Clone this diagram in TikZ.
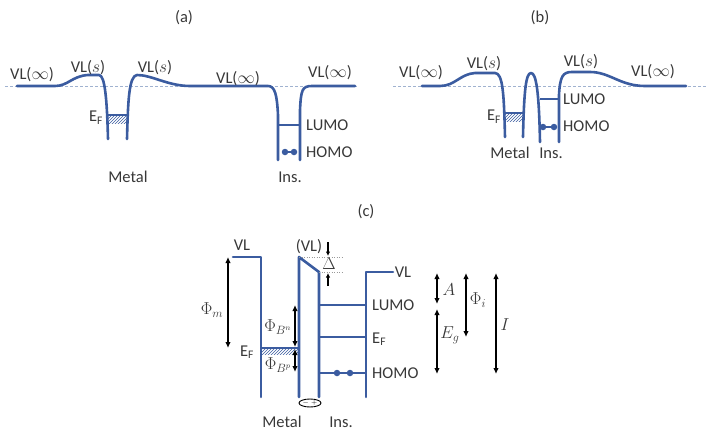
\documentclass[tikz,border=0pt]{standalone}
\usepackage{fontspec}
\setmainfont{Carlito}
\usetikzlibrary{arrows.meta, positioning, patterns, shapes.geometric}
\definecolor{bandblue}{RGB}{59,92,160}
\definecolor{vacblue}{RGB}{160,178,208}
\tikzstyle{lbl} = [inner sep=1pt, font=\fontsize{16.5}{19}\selectfont, text=black!78]
\tikzstyle{bandline} = [draw=bandblue, line width=2.6pt, line join=round, line cap=round]
\tikzstyle{level} = [draw=bandblue, line width=1.2pt]
\tikzstyle{levelc} = [draw=bandblue, line width=1.9pt]
\tikzstyle{vacline} = [draw=vacblue, line width=0.6pt, dash pattern=on 3pt off 2pt]
\tikzstyle{hatch} = [pattern=north east lines, pattern color=bandblue]
\tikzstyle{elec} = [circle, fill=bandblue, inner sep=0pt, minimum size=6.5pt]
\tikzstyle{dim} = [black, line width=1.8pt, {Latex[length=6pt,width=5.5pt]}-{Latex[length=6pt,width=5.5pt]}]
\tikzstyle{small} = [black, line width=1.3pt, -{Latex[length=4.5pt,width=4.5pt]}]
\tikzstyle{guide} = [draw=black!40, line width=0.5pt, dotted]
\tikzstyle{dipole} = [ellipse, draw, line width=0.9pt, minimum width=22pt, minimum height=8pt, inner sep=0pt, font=\fontsize{7}{7}\selectfont]
\newcommand{\EF}{E\textsubscript{F}}

\begin{document}
\begin{tikzpicture}[x=1pt, y=-1pt]
	\useasboundingbox (0,0) rectangle (713,434);

	% Panel (a)
	\node (tita) [lbl] at (184,18) {(a)};
	\draw[vacline] (5,86) -- (357,86);
	\draw[bandline] (17,86) -- (55,86) .. controls (68,86) and (72,76) .. (88,75) -- (99,75)
		.. controls (105,75) and (107,100) .. (108,139);
	\draw[bandline] (127,139) .. controls (128,100) and (129,76) .. (137,75)
		.. controls (152,75) and (168,86) .. (190,86) -- (268,86)
		.. controls (275,86) and (277,95) .. (278,115) -- (278,160);
	\draw[bandline] (300,160) -- (300,110) .. controls (301,90) and (302,86) .. (312,86) -- (355,86);
	\fill[hatch] (108,115) rectangle (127,123);
	\draw[level] (108,115) -- (127,115);
	\draw[level] (278,125) -- (300,125);
	\node (ha1) [elec] at (285,152) {};
	\node (ha2) [elec] at (294,152) {};
	\draw[level] (ha1) -- (ha2);

	\node (vla1) [lbl] at (32,75) {VL($\infty$)};
	\node (vla2) [lbl] at (88,68) {VL($s$)};
	\node (vla3) [lbl] at (155,68) {VL($s$)};
	\node (vla4) [lbl] at (238,79) {VL($\infty$)};
	\node (vla5) [lbl] at (330,73) {VL($\infty$)};
	\node (efa) [lbl] at (96,118) {\EF};
	\node (luma) [lbl, anchor=west] at (305,125) {LUMO};
	\node (homa) [lbl, anchor=west] at (305,152) {HOMO};
	\node (meta) [lbl] at (128,177) {Metal};
	\node (insa) [lbl] at (290,177) {Ins.};

	% Panel (b)
	\node (titb) [lbl] at (540,18) {(b)};
	\draw[vacline] (393,86) -- (707,86);
	\draw[bandline] (422,86) -- (440,86) .. controls (455,86) and (460,74) .. (475,73) -- (495,73)
		.. controls (503,73) and (504,95) .. (505,137);
	\draw[bandline] (523,137) .. controls (524,90) and (526,73) .. (531,73)
		.. controls (536,73) and (539,90) .. (540,142);
	\draw[bandline] (559,142) -- (559,95) .. controls (560,76) and (563,72) .. (572,72) -- (590,72)
		.. controls (610,72) and (620,86) .. (645,86) -- (686,86);
	\fill[hatch] (505,113) rectangle (523,121);
	\draw[level] (505,113) -- (523,113);
	\draw[level] (540,99) -- (559,99);
	\node (hb1) [elec] at (543,127) {};
	\node (hb2) [elec] at (554,127) {};
	\draw[level] (hb1) -- (hb2);

	\node (vlb1) [lbl] at (421,73) {VL($\infty$)};
	\node (vlb2) [lbl] at (484,64) {VL($s$)};
	\node (vlb3) [lbl] at (581,62) {VL($s$)};
	\node (vlb4) [lbl] at (653,72) {VL($\infty$)};
	\node (efb) [lbl] at (494,117) {\EF};
	\node (lumb) [lbl, anchor=west] at (562,99) {LUMO};
	\node (homb) [lbl, anchor=west] at (562,126) {HOMO};
	\node (metb) [lbl] at (510,153) {Metal};
	\node (insb) [lbl] at (551,153) {Ins.};

	% Panel (c)
	\node (titc) [lbl] at (366,212) {(c)};
	\draw[bandline] (233,257) -- (261,257) -- (261,397);
	\draw[bandline] (299,397) -- (299,257) -- (319,272) -- (319,397);
	\draw[bandline] (366,397) -- (366,272) -- (393,272);
	\fill[hatch] (261,348) rectangle (299,354);
	\draw[levelc] (261,348) -- (299,348);
	\draw[levelc] (319,305) -- (366,305);
	\draw[levelc] (319,337) -- (366,337);
	\draw[levelc] (319,373) -- (366,373);
	\node (hc1) [elec] at (337,373) {};
	\node (hc2) [elec] at (350,373) {};
	\draw[guide] (299,257) -- (342,257);
	\draw[guide] (319,272) -- (342,272);
	\node (dip) [dipole] at (310,403) {$-$\,\,$+$};

	\node (vlc1) [lbl] at (242,245) {VL};
	\node (vlc2) [lbl] at (309,247) {(VL)};
	\node (delta) [lbl] at (329,264) {$\Delta$};
	\node (vlc3) [lbl] at (403,272) {VL};
	\node (efc1) [lbl] at (247,352) {\EF};
	\node (lumc) [lbl, anchor=west] at (371,305) {LUMO};
	\node (efc2) [lbl, anchor=west] at (371,339) {\EF};
	\node (homc) [lbl, anchor=west] at (371,373) {HOMO};
	\node (metc) [lbl] at (282,422) {Metal};
	\node (insc) [lbl] at (341,422) {Ins.};

	% Energy arrows
	\coordinate (dtop) at (328,242);
	\coordinate (dtopend) at (328,256);
	\coordinate (dbot) at (328,286);
	\coordinate (dbotend) at (328,273);
	\draw[small] (dtop) -- (dtopend);
	\draw[small] (dbot) -- (dbotend);

	\coordinate (phimT) at (228,257);
	\coordinate (phimB) at (228,348);
	\draw[dim] (phimT) -- (phimB);
	\node (phim) [lbl] at (212,310) {$\Phi_m$};

	\coordinate (bnT) at (295,305);
	\coordinate (bnB) at (295,347);
	\coordinate (bpT) at (295,349);
	\coordinate (bpB) at (295,372);
	\draw[dim] (bnT) -- (bnB);
	\draw[dim] (bpT) -- (bpB);
	\node (phibn) [lbl] at (278,327) {$\Phi_{B^n}$};
	\node (phibp) [lbl] at (278,365) {$\Phi_{B^p}$};

	\coordinate (aT) at (437,273);
	\coordinate (aB) at (437,304);
	\coordinate (egT) at (437,309);
	\coordinate (egB) at (437,374);
	\coordinate (phiT) at (466,273);
	\coordinate (phiB) at (466,337);
	\coordinate (iT) at (496,273);
	\coordinate (iB) at (496,374);
	\draw[dim] (aT) -- (aB);
	\draw[dim] (egT) -- (egB);
	\draw[dim] (phiT) -- (phiB);
	\draw[dim] (iT) -- (iB);
	\node (lA) [lbl] at (449,290) {$A$};
	\node (lEg) [lbl] at (450,335) {$E_g$};
	\node (lphi) [lbl] at (478,300) {$\Phi_i$};
	\node (lI) [lbl] at (505,325) {$I$};

\end{tikzpicture}
\end{document}
